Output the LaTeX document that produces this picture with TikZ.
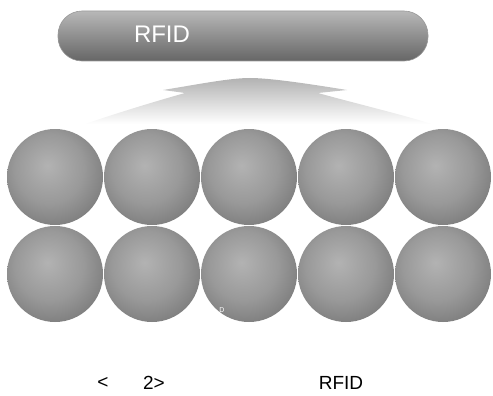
\documentclass[tikz,border=0pt]{standalone}
\usepackage{fontspec}
\setmainfont{Liberation Sans}
\pgfdeclareradialshading{sphereshade}{\pgfpoint{-4bp}{6bp}}{%
  color(0bp)=(black!30);
  color(18bp)=(black!40);
  color(36bp)=(black!56);
  color(45bp)=(black!66);
  color(51bp)=(black!74);
  color(70bp)=(black!78)}
\tikzset{
  ballnode/.style={circle,minimum size=96pt,inner sep=0pt,shading=sphereshade},
  barnode/.style={rounded corners=24pt,minimum width=370pt,minimum height=50pt,inner sep=0pt,
    top color=black!28,bottom color=black!60,draw=black!40,line width=0.6pt},
  captxt/.style={font=\fontsize{19pt}{21pt}\selectfont,text=black},
}
\begin{document}
\begin{tikzpicture}[x=1pt,y=-1pt]
\useasboundingbox (0,0) rectangle (493,396);
% bar
\node[barnode] (bar) at (243,36) {};
\node[text=white,font=\fontsize{24pt}{26pt}\selectfont] (bartxt) at (162,34) {RFID};
% fan
\shade[top color=black!30,bottom color=white]
  (85,124) .. controls (120,112) and (160,100) .. (185,93)
  -- (163,90) .. controls (200,84) and (230,78) .. (250,78)
  .. controls (270,78) and (310,84) .. (347,90)
  -- (318,93) .. controls (350,102) and (400,114) .. (432,124) -- cycle;
% spheres
\foreach \i/\x in {1/55,2/152,3/249,4/346,5/443}{
  \node[ballnode] (t\i) at (\x,177) {};
  \node[ballnode] (b\i) at (\x,274) {};
}
\node[text=white,font=\fontsize{7pt}{8pt}\selectfont] (dtxt) at (222,310) {D};
% caption
\node[captxt] (c1) at (103,383) {<};
\node[captxt] (c2) at (154,383) {2>};
\node[captxt] (c3) at (341,383) {RFID};
\end{tikzpicture}
\end{document}
